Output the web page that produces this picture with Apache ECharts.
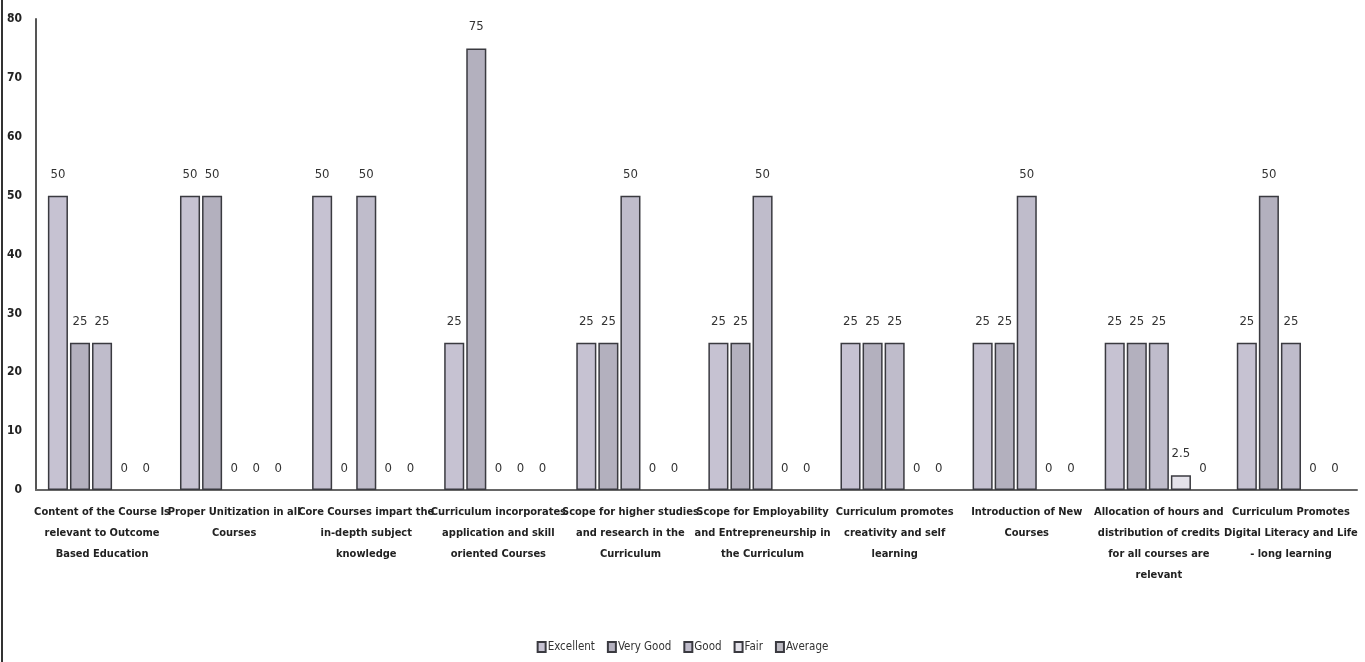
<!DOCTYPE html>
<html>
<head>
<meta charset="utf-8">
<script src="https://cdn.jsdelivr.net/npm/echarts@6/dist/echarts.min.js"></script>
<style>
html,body{margin:0;padding:0;background:#fff;}
#chart{width:1365px;height:662px;}
</style>
</head>
<body>
<div id="chart"></div>
<script>
var categories = [
  "Content of the Course Is relevant to Outcome Based Education",
  "Proper Unitization in all Courses",
  "Core Courses impart the in-depth subject knowledge",
  "Curriculum incorporates application and skill oriented Courses",
  "Scope for higher studies and research in the Curriculum",
  "Scope for Employability and Entrepreneurship in the Curriculum",
  "Curriculum promotes creativity and self learning",
  "Introduction of New Courses",
  "Allocation of hours and distribution of credits for all courses are relevant",
  "Curriculum Promotes Digital Literacy and Life - long learning"
];
var categoryLabels = [
  "Content of the Course Is\nrelevant to Outcome\nBased Education",
  "Proper Unitization in all\nCourses",
  "Core Courses impart the\nin-depth subject\nknowledge",
  "Curriculum incorporates\napplication and skill\noriented Courses",
  "Scope for higher studies\nand research in the\nCurriculum",
  "Scope for Employability\nand Entrepreneurship in\nthe Curriculum",
  "Curriculum promotes\ncreativity and self\nlearning",
  "Introduction of New\nCourses",
  "Allocation of hours and\ndistribution of credits\nfor all courses are\nrelevant",
  "Curriculum Promotes\nDigital Literacy and Life\n- long learning"
];
var seriesNames = ["Excellent", "Very Good", "Good", "Fair", "Average"];
var excellent = [50, 50, 50, 25, 25, 25, 25, 25, 25, 25];
var veryGood  = [25, 50, 0, 75, 25, 25, 25, 25, 25, 50];
var good      = [25, 0, 50, 0, 50, 50, 25, 50, 25, 25];
var fair      = [0, 0, 0, 0, 0, 0, 0, 0, 2.5, 0];
var average   = [0, 0, 0, 0, 0, 0, 0, 0, 0, 0];
var yTicks = [0, 10, 20, 30, 40, 50, 60, 70, 80];

var seriesData = [excellent, veryGood, good, fair, average];
var colors = ["#c6c2d2", "#b3b0be", "#bfbccb", "#e4e2ea", "#bcbac2"];
var FONT = "'DejaVu Sans Condensed', 'Roboto', sans-serif";

var chart = echarts.init(document.getElementById('chart'));
chart.setOption({
  animation: false,
  backgroundColor: '#ffffff',
  graphic: [{
    type: 'line',
    silent: true,
    shape: { x1: 2, y1: 0, x2: 2, y2: 662 },
    style: { stroke: '#333', lineWidth: 2 }
  }],
  grid: { left: 36, right: 8, top: 19, bottom: 172, containLabel: false },
  legend: {
    bottom: 4,
    left: 'center',
    itemWidth: 8,
    itemHeight: 10,
    itemGap: 12,
    icon: 'rect',
    textStyle: { fontFamily: FONT, fontSize: 11.5, color: '#333', padding: [0, 0, 0, -3] },
    data: seriesNames
  },
  xAxis: {
    type: 'category',
    data: categories,
    axisLine: { lineStyle: { color: '#666', width: 2 } },
    axisTick: { show: false },
    axisLabel: {
      interval: 0,
      margin: 12,
      color: '#222',
      fontFamily: FONT,
      fontWeight: 'bold',
      fontSize: 11,
      lineHeight: 21,
      formatter: function (v, i) { return categoryLabels[i]; }
    }
  },
  yAxis: {
    type: 'value',
    min: 0,
    max: 80,
    interval: 10,
    splitLine: { show: false },
    axisLine: { show: true, lineStyle: { color: '#555', width: 2 } },
    axisTick: { show: false },
    axisLabel: {
      margin: 14,
      color: '#222',
      fontFamily: FONT,
      fontWeight: 'bold',
      fontSize: 12,
      formatter: function (v) { return yTicks.indexOf(v) >= 0 ? String(v) : ''; }
    }
  },
  series: seriesNames.map(function (name, k) {
    return {
      name: name,
      type: 'bar',
      data: seriesData[k].map(function (v) {
        return v === 0 ? { value: v, itemStyle: { borderWidth: 0, color: 'rgba(0,0,0,0)' } } : v;
      }),
      barGap: '10%',
      barCategoryGap: '18%',
      itemStyle: { color: colors[k], borderColor: '#3a3a40', borderWidth: 1.5 },
      label: {
        show: true,
        position: 'top',
        distance: 15,
        color: '#333',
        fontFamily: FONT,
        fontSize: 13
      }
    };
  })
});
</script>
</body>
</html>
